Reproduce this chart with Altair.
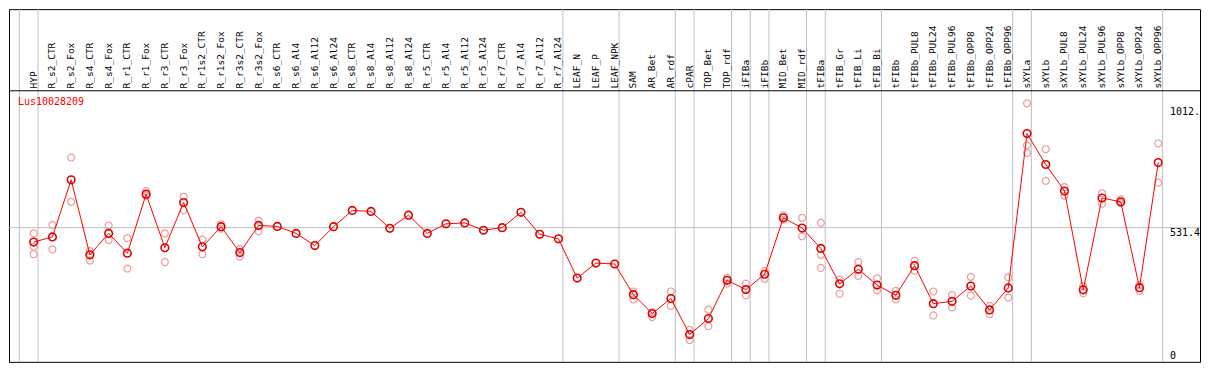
import altair as alt
import pandas as pd

categories = [
    "HYP", "R_s2_CTR", "R_s2_Fox", "R_s4_CTR", "R_s4_Fox", "R_r1_CTR", "R_r1_Fox",
    "R_r3_CTR", "R_r3_Fox", "R_r1s2_CTR", "R_r1s2_Fox", "R_r3s2_CTR", "R_r3s2_Fox",
    "R_s6_CTR", "R_s6_Al4", "R_s6_Al12", "R_s6_Al24", "R_s8_CTR", "R_s8_Al4",
    "R_s8_Al12", "R_s8_Al24", "R_r5_CTR", "R_r5_Al4", "R_r5_Al12", "R_r5_Al24",
    "R_r7_CTR", "R_r7_Al4", "R_r7_Al12", "R_r7_Al24", "LEAF_N", "LEAF_P", "LEAF_NPK",
    "SAM", "AR_Bet", "AR_rdf", "cPAR", "TOP_Bet", "TOP_rdf", "iFIBa", "iFIBb",
    "MID_Bet", "MID_rdf", "tFIBa", "tFIB_Gr", "tFIB_Li", "tFIB_Bi", "tFIBb",
    "tFIBb_PUL8", "tFIBb_PUL24", "tFIBb_PUL96", "tFIBb_OPP8", "tFIBb_OPP24", "tFIBb_OPP96",
    "sXYLa", "sXYLb", "sXYLb_PUL8", "sXYLb_PUL24", "sXYLb_PUL96", "sXYLb_OPP8",
    "sXYLb_OPP24", "sXYLb_OPP96",
]

mean_values = [
    474.3, 494.5, 721.6, 423.4, 508.6, 429.8, 664.5, 451.5, 631.5, 455.3, 535.2, 432.5, 540.2,
    536.4, 508.6, 460.3, 535.2, 599.9, 596.1, 528.7, 580.9, 508.6, 546.6, 550.4, 521.1,
    531.4, 592.3, 504.8, 486.9, 330.9, 390.7, 386.9,
    265.1, 190.2, 249.9, 106.5, 170.0, 322.2, 285.3, 346.2, 570.6, 529.9, 448.9, 308.1,
    366.3, 303.2, 262.5, 380.4, 229.4, 238.5, 299.4, 204.3, 291.8,
    905.3, 782.5, 677.1, 284.2, 649.3, 634.1, 292.9, 790.1,
]

rep_a = [
    508.6, 542.8, 810.2, 438.6, 540.2, 489.6, 677.1, 508.6, 654.3, 484.3, 545.1, 446.2, 559.2,
    None, None, None, None, None, None, None, None, None, None, None, None,
    None, None, None, None, None, None, None,
    277.7, 195.1, 277.7, 125.5, 205.4, 332.1, 309.3, 358.7, 579.3, 570.6, 550.4, 324.5,
    394.5, 329.8, 280.3, 399.4, 277.7, 263.6, 335.9, 220.6, 333.6,
    1025.9, 843.3, 692.3, 299.4, 668.4, 644.0, 303.2, 866.2,
]

rep_b = [
    455.3, 445.1, 634.1, 400.6, 482.0, 369.0, 658.1, 394.5, 601.0, 426.0, 527.6, 415.8, 516.2,
    None, None, None, None, None, None, None, None, None, None, None, None,
    None, None, None, None, None, None, None,
    246.1, 176.1, 220.6, 84.8, 139.6, 309.3, 262.5, 328.3, 563.0, 497.2, 423.4, 268.9,
    339.7, 282.6, 246.1, 360.2, 182.6, 214.2, 261.3, 187.5, 253.7,
    858.6, 717.8, 658.1, 271.2, 626.5, 628.8, 280.3, 710.2,
]

rep_c = [None] * len(categories)
rep_c[0] = 426.0     # HYP third replicate
rep_c[42] = 371.6    # tFIBa third replicate
rep_c[53] = 828.1    # sXYLa third replicate

group_sizes = [1, 28, 3, 3, 1, 2, 1, 1, 2, 1, 3, 7, 1, 7]
grid_value = [531.4]
tick_values = [531.4, 1012.8]
tick_labels = ["531.4", "1012."]
zero_label = ["0"]
gene_title = "Lus10028209"

# ---- tables ----
df = pd.DataFrame({"idx": list(range(len(categories))), "cat": categories, "mean": mean_values})
rows = []
for i, trio in enumerate(zip(rep_a, rep_b, rep_c)):
    for v in trio:
        if v is not None:
            rows.append({"idx": i, "value": v})
rep_df = pd.DataFrame(rows)

bounds = [-1]
s = -1
for g in group_sizes:
    s += g
    bounds.append(s)
bound_df = pd.DataFrame({"b": bounds})
grid_df = pd.DataFrame({"v": grid_value})
tick_df = pd.DataFrame({"v": tick_values, "t": tick_labels})
zero_df = pd.DataFrame({"v": [0], "t": zero_label})

W, H = 1192, 353
FONT = "DejaVu Sans Mono"
xs = alt.Scale(domain=[-1.316, 62.23], nice=False, zero=False)
ys = alt.Scale(domain=[-2, 1400], nice=False, zero=False)

vgrid = alt.Chart(bound_df).mark_rule(color="#c0c0c0", strokeWidth=1, xOffset=4.4).encode(
    x=alt.X("b:Q", scale=xs, axis=None), y=alt.value(0), y2=alt.value(H)
)
hgrid = alt.Chart(grid_df).mark_rule(color="#c0c0c0", strokeWidth=1).encode(
    y=alt.Y("v:Q", scale=ys, axis=None), x=alt.value(0), x2=alt.value(W)
)
sep = alt.Chart(grid_df).mark_rule(color="black", strokeWidth=1).encode(
    y=alt.value(81.7), x=alt.value(0), x2=alt.value(W)
)
labels = alt.Chart(df).mark_text(
    angle=270, align="left", baseline="middle", font=FONT, fontSize=9.5, color="black"
).encode(x=alt.X("idx:Q", scale=xs, axis=None), y=alt.value(79.3), text="cat:N")

reps = alt.Chart(rep_df).mark_point(
    shape="circle", filled=False, size=48, color="#eb9c9c", strokeWidth=1.2, opacity=1
).encode(x=alt.X("idx:Q", scale=xs, axis=None), y=alt.Y("value:Q", scale=ys, axis=None))

line = alt.Chart(df).mark_line(color="#ff0000", strokeWidth=1).encode(
    x=alt.X("idx:Q", scale=xs, axis=None), y=alt.Y("mean:Q", scale=ys, axis=None)
)
means = alt.Chart(df).mark_point(
    shape="circle", filled=False, size=58, color="#e00000", strokeWidth=1.6, opacity=1
).encode(x=alt.X("idx:Q", scale=xs, axis=None), y=alt.Y("mean:Q", scale=ys, axis=None))

ylab = alt.Chart(tick_df).mark_text(
    align="left", baseline="top", font=FONT, fontSize=10, color="black", dy=0
).encode(x=alt.value(1162), y=alt.Y("v:Q", scale=ys, axis=None), text="t:N")
ylab0 = alt.Chart(zero_df).mark_text(
    align="left", baseline="alphabetic", font=FONT, fontSize=10, color="black", dy=-2.5
).encode(x=alt.value(1162), y=alt.Y("v:Q", scale=ys, axis=None), text="t:N")

title = alt.Chart(grid_df).mark_text(
    align="left", baseline="middle", font=FONT, fontSize=10, color="#ff0000"
).encode(x=alt.value(9), y=alt.value(93), text=alt.value(gene_title))

chart = alt.layer(vgrid, hgrid, sep, labels, reps, line, means, ylab, ylab0, title).properties(
    width=W, height=H, padding=0
).configure_view(stroke="black", strokeWidth=1)

chart.save("out.html", embed_options={"renderer": "svg", "actions": False})
